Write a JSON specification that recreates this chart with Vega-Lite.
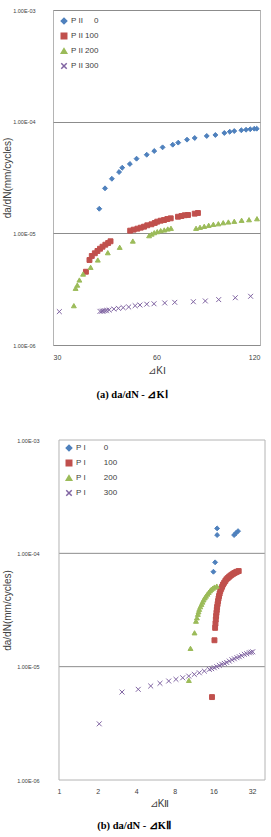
{
  "$schema": "https://vega.github.io/schema/vega-lite/v6.json",
  "background": "white",
  "padding": {"left": 2, "top": 7, "right": 0, "bottom": 0},
  "spacing": 37,
  "config": {
    "view": {"stroke": "#b4b4b4", "strokeWidth": 1},
    "axis": {"labelFont": "Liberation Sans", "titleFont": "Liberation Sans", "labelColor": "#404040", "titleColor": "#404040", "ticks": false, "tickSize": 0, "domain": false, "titleFontWeight": "normal"},
    "legend": {"labelFont": "Liberation Sans", "labelColor": "#404040"}
  },
  "resolve": {
    "scale": {"fill": "independent", "stroke": "independent", "shape": "independent"},
    "legend": {"fill": "independent", "stroke": "independent", "shape": "independent"}
  },
  "vconcat": [
    {
      "width": 207,
      "height": 335,
      "title": {"text": "(a)  da/dN  -  ⊿KⅠ", "orient": "bottom", "anchor": "middle", "frame": "bounds", "font": "Liberation Serif", "fontWeight": "bold", "fontSize": 10.5, "offset": 15, "color": "#000000"},
      "data": {"values": [
        {"k": 40.9, "dadn": 1.66e-5, "s": "0"}, {"k": 42.5, "dadn": 2.53e-5, "s": "0"}, {"k": 44.5, "dadn": 3.08e-5, "s": "0"}, {"k": 46.7, "dadn": 3.54e-5, "s": "0"}, {"k": 47.7, "dadn": 3.87e-5, "s": "0"}, {"k": 50.2, "dadn": 4.18e-5, "s": "0"}, {"k": 52.5, "dadn": 4.66e-5, "s": "0"}, {"k": 56.2, "dadn": 5.06e-5, "s": "0"}, {"k": 59.1, "dadn": 5.46e-5, "s": "0"}, {"k": 62.5, "dadn": 5.89e-5, "s": "0"}, {"k": 66.9, "dadn": 6.22e-5, "s": "0"}, {"k": 69.4, "dadn": 6.49e-5, "s": "0"}, {"k": 73.6, "dadn": 6.9e-5, "s": "0"}, {"k": 77.5, "dadn": 7.14e-5, "s": "0"}, {"k": 84.0, "dadn": 7.45e-5, "s": "0"}, {"k": 89.0, "dadn": 7.6e-5, "s": "0"}, {"k": 94.5, "dadn": 7.92e-5, "s": "0"}, {"k": 98.0, "dadn": 8.13e-5, "s": "0"}, {"k": 101.0, "dadn": 8.24e-5, "s": "0"}, {"k": 105.9, "dadn": 8.37e-5, "s": "0"}, {"k": 109.3, "dadn": 8.47e-5, "s": "0"}, {"k": 112.4, "dadn": 8.55e-5, "s": "0"}, {"k": 115.5, "dadn": 8.65e-5, "s": "0"}, {"k": 117.4, "dadn": 8.65e-5, "s": "0"},
        {"k": 37.4, "dadn": 4.53e-6, "s": "100"}, {"k": 38.3, "dadn": 5.77e-6, "s": "100"}, {"k": 38.9, "dadn": 6.27e-6, "s": "100"}, {"k": 39.7, "dadn": 6.63e-6, "s": "100"}, {"k": 40.4, "dadn": 6.95e-6, "s": "100"}, {"k": 41.1, "dadn": 7.28e-6, "s": "100"}, {"k": 41.8, "dadn": 7.59e-6, "s": "100"}, {"k": 42.6, "dadn": 7.91e-6, "s": "100"}, {"k": 43.4, "dadn": 8.19e-6, "s": "100"}, {"k": 44.1, "dadn": 8.49e-6, "s": "100"}, {"k": 50.3, "dadn": 1.057e-5, "s": "100"}, {"k": 51.5, "dadn": 1.079e-5, "s": "100"}, {"k": 52.8, "dadn": 1.101e-5, "s": "100"}, {"k": 54.0, "dadn": 1.124e-5, "s": "100"}, {"k": 55.2, "dadn": 1.147e-5, "s": "100"}, {"k": 56.4, "dadn": 1.18e-5, "s": "100"}, {"k": 58.0, "dadn": 1.205e-5, "s": "100"}, {"k": 59.3, "dadn": 1.239e-5, "s": "100"}, {"k": 60.3, "dadn": 1.272e-5, "s": "100"}, {"k": 61.7, "dadn": 1.298e-5, "s": "100"}, {"k": 63.1, "dadn": 1.315e-5, "s": "100"}, {"k": 64.5, "dadn": 1.343e-5, "s": "100"}, {"k": 66.0, "dadn": 1.363e-5, "s": "100"}, {"k": 69.3, "dadn": 1.408e-5, "s": "100"}, {"k": 70.9, "dadn": 1.429e-5, "s": "100"}, {"k": 72.5, "dadn": 1.452e-5, "s": "100"}, {"k": 74.1, "dadn": 1.46e-5, "s": "100"}, {"k": 77.5, "dadn": 1.5e-5, "s": "100"}, {"k": 79.2, "dadn": 1.521e-5, "s": "100"},
        {"k": 34.5, "dadn": 2.25e-6, "s": "200"}, {"k": 34.9, "dadn": 3.22e-6, "s": "200"}, {"k": 35.3, "dadn": 3.44e-6, "s": "200"}, {"k": 35.8, "dadn": 3.82e-6, "s": "200"}, {"k": 36.7, "dadn": 4.32e-6, "s": "200"}, {"k": 38.6, "dadn": 4.96e-6, "s": "200"}, {"k": 40.5, "dadn": 5.77e-6, "s": "200"}, {"k": 43.3, "dadn": 6.71e-6, "s": "200"}, {"k": 46.9, "dadn": 7.5e-6, "s": "200"}, {"k": 51.2, "dadn": 8.53e-6, "s": "200"}, {"k": 57.1, "dadn": 9.53e-6, "s": "200"}, {"k": 58.1, "dadn": 9.86e-6, "s": "200"}, {"k": 59.1, "dadn": 1.014e-5, "s": "200"}, {"k": 60.3, "dadn": 1.035e-5, "s": "200"}, {"k": 61.7, "dadn": 1.057e-5, "s": "200"}, {"k": 63.2, "dadn": 1.072e-5, "s": "200"}, {"k": 64.7, "dadn": 1.094e-5, "s": "200"}, {"k": 66.1, "dadn": 1.11e-5, "s": "200"}, {"k": 78.2, "dadn": 1.11e-5, "s": "200"}, {"k": 80.3, "dadn": 1.133e-5, "s": "200"}, {"k": 82.6, "dadn": 1.156e-5, "s": "200"}, {"k": 85.1, "dadn": 1.18e-5, "s": "200"}, {"k": 87.8, "dadn": 1.205e-5, "s": "200"}, {"k": 90.8, "dadn": 1.219e-5, "s": "200"}, {"k": 93.8, "dadn": 1.245e-5, "s": "200"}, {"k": 97.1, "dadn": 1.264e-5, "s": "200"}, {"k": 101.0, "dadn": 1.282e-5, "s": "200"}, {"k": 106.1, "dadn": 1.309e-5, "s": "200"}, {"k": 111.5, "dadn": 1.325e-5, "s": "200"}, {"k": 117.6, "dadn": 1.352e-5, "s": "200"},
        {"k": 31.3, "dadn": 1.99e-6, "s": "300"}, {"k": 41.1, "dadn": 2.0e-6, "s": "300"}, {"k": 41.6, "dadn": 2.01e-6, "s": "300"}, {"k": 42.0, "dadn": 2.02e-6, "s": "300"}, {"k": 42.5, "dadn": 2.03e-6, "s": "300"}, {"k": 43.0, "dadn": 2.04e-6, "s": "300"}, {"k": 43.7, "dadn": 2.06e-6, "s": "300"}, {"k": 45.1, "dadn": 2.1e-6, "s": "300"}, {"k": 46.5, "dadn": 2.13e-6, "s": "300"}, {"k": 48.0, "dadn": 2.16e-6, "s": "300"}, {"k": 49.8, "dadn": 2.19e-6, "s": "300"}, {"k": 52.0, "dadn": 2.25e-6, "s": "300"}, {"k": 53.7, "dadn": 2.28e-6, "s": "300"}, {"k": 56.2, "dadn": 2.32e-6, "s": "300"}, {"k": 59.0, "dadn": 2.34e-6, "s": "300"}, {"k": 63.4, "dadn": 2.38e-6, "s": "300"}, {"k": 67.8, "dadn": 2.41e-6, "s": "300"}, {"k": 76.8, "dadn": 2.44e-6, "s": "300"}, {"k": 83.2, "dadn": 2.48e-6, "s": "300"}, {"k": 91.0, "dadn": 2.55e-6, "s": "300"}, {"k": 101.7, "dadn": 2.65e-6, "s": "300"}, {"k": 112.7, "dadn": 2.73e-6, "s": "300"}
      ]},
      "mark": {"type": "point", "filled": true, "opacity": 1, "size": 24, "strokeWidth": 1},
      "encoding": {
        "x": {"field": "k", "type": "quantitative", "scale": {"type": "log", "base": 2, "domain": [30, 120], "nice": false, "zero": false},
              "axis": {"values": [30, 60, 120], "format": "d", "title": "⊿KⅠ", "grid": false, "labelFontSize": 7, "labelPadding": 8, "titleFontSize": 10, "titlePadding": 5}},
        "y": {"field": "dadn", "type": "quantitative", "scale": {"type": "log", "domain": [1e-6, 1e-3], "nice": false},
              "axis": {"values": [1e-6, 1e-5, 1e-4, 1e-3], "labelExpr": "'1.00E-0' + format(-round(log(datum.value)/LN10), 'd')", "grid": true, "gridColor": "#8c8c8c", "gridWidth": 1, "title": "da/dN(mm/cycles)", "labelFontSize": 5.5, "labelPadding": 18, "titleFontSize": 10, "titlePadding": 0}},
        "fill": {"field": "s", "type": "nominal", "scale": {"domain": ["0", "100", "200", "300"], "range": ["#4F81BD", "#C0504D", "#9BBB59", "#8064A2"]},
                 "legend": {"orient": "top-left", "title": null, "offset": 7, "padding": 0, "labelFontSize": 8, "rowPadding": 3, "symbolSize": 30, "labelOffset": 3, "labelExpr": "'P II\u00a0' + pad(datum.label, 3, '\u2007', 'left')"}},
        "stroke": {"field": "s", "type": "nominal", "scale": {"domain": ["0", "100", "200", "300"], "range": ["#4F81BD", "#C0504D", "#9BBB59", "#8064A2"]},
                 "legend": {"orient": "top-left", "title": null, "offset": 7, "padding": 0, "labelFontSize": 8, "rowPadding": 3, "symbolSize": 30, "labelOffset": 3, "labelExpr": "'P II\u00a0' + pad(datum.label, 3, '\u2007', 'left')"}},
        "shape": {"field": "s", "type": "nominal", "scale": {"domain": ["0", "100", "200", "300"], "range": ["diamond", "square", "triangle-up", "M-1,-1L1,1M-1,1L1,-1"]},
                 "legend": {"orient": "top-left", "title": null, "offset": 7, "padding": 0, "labelFontSize": 8, "rowPadding": 3, "symbolSize": 30, "labelOffset": 3, "labelExpr": "'P II\u00a0' + pad(datum.label, 3, '\u2007', 'left')"}}
      }
    },
    {
      "width": 212,
      "height": 340,
      "view": {"stroke": null},
      "title": {"text": "(b)  da/dN  -  ⊿KⅡ", "orient": "bottom", "anchor": "middle", "frame": "bounds", "font": "Liberation Serif", "fontWeight": "bold", "fontSize": 10.5, "offset": 13, "color": "#000000"},
      "layer": [
        {"data": {"values": [{}]}, "mark": {"type": "rule", "color": "#8c8c8c", "strokeWidth": 1}, "encoding": {"x": {"datum": 1, "type": "quantitative"}, "x2": {"datum": 40.4}, "y": {"datum": 1e-5, "type": "quantitative"}}},
        {"data": {"values": [{}]}, "mark": {"type": "rule", "color": "#8c8c8c", "strokeWidth": 1}, "encoding": {"x": {"datum": 1, "type": "quantitative"}, "x2": {"datum": 40.4}, "y": {"datum": 1e-4, "type": "quantitative"}}},
        {"data": {"values": [{}]}, "mark": {"type": "rule", "color": "#b4b4b4", "strokeWidth": 1}, "encoding": {"x": {"datum": 1, "type": "quantitative"}, "x2": {"datum": 40.4}, "y": {"datum": 1e-3, "type": "quantitative"}}},
        {"data": {"values": [{}]}, "mark": {"type": "rule", "color": "#b4b4b4", "strokeWidth": 1}, "encoding": {"x": {"datum": 1, "type": "quantitative"}, "x2": {"datum": 40.4}, "y": {"datum": 1e-6, "type": "quantitative"}}},
        {"data": {"values": [{}]}, "mark": {"type": "rule", "color": "#b4b4b4", "strokeWidth": 1}, "encoding": {"x": {"datum": 1, "type": "quantitative"}, "y": {"datum": 1e-6, "type": "quantitative"}, "y2": {"datum": 1e-3}}},
        {"data": {"values": [{}]}, "mark": {"type": "rule", "color": "#b4b4b4", "strokeWidth": 1}, "encoding": {"x": {"datum": 40.4, "type": "quantitative"}, "y": {"datum": 1e-6, "type": "quantitative"}, "y2": {"datum": 1e-3}}},
        {
          "data": {"values": [
            {"k": 17.1, "dadn": 1.66e-4, "s": "0"}, {"k": 17.1, "dadn": 1.45e-4, "s": "0"}, {"k": 16.5, "dadn": 8.33e-5, "s": "0"}, {"k": 16.0, "dadn": 6.88e-5, "s": "0"}, {"k": 23.2, "dadn": 1.45e-4, "s": "0"}, {"k": 24.0, "dadn": 1.51e-4, "s": "0"}, {"k": 24.9, "dadn": 1.57e-4, "s": "0"},
            {"k": 15.6, "dadn": 5.39e-6, "s": "100"}, {"k": 16.3, "dadn": 1.71e-5, "s": "100"}, {"k": 16.5, "dadn": 2.2e-5, "s": "100"}, {"k": 16.6, "dadn": 2.4e-5, "s": "100"}, {"k": 16.7, "dadn": 2.61e-5, "s": "100"}, {"k": 16.8, "dadn": 2.8e-5, "s": "100"}, {"k": 16.9, "dadn": 2.99e-5, "s": "100"}, {"k": 17.0, "dadn": 3.17e-5, "s": "100"}, {"k": 17.1, "dadn": 3.36e-5, "s": "100"}, {"k": 17.25, "dadn": 3.57e-5, "s": "100"}, {"k": 17.4, "dadn": 3.79e-5, "s": "100"}, {"k": 17.55, "dadn": 4.0e-5, "s": "100"}, {"k": 17.7, "dadn": 4.2e-5, "s": "100"}, {"k": 17.9, "dadn": 4.42e-5, "s": "100"}, {"k": 18.1, "dadn": 4.65e-5, "s": "100"}, {"k": 18.4, "dadn": 4.86e-5, "s": "100"}, {"k": 18.7, "dadn": 5.07e-5, "s": "100"}, {"k": 19.0, "dadn": 5.3e-5, "s": "100"}, {"k": 19.4, "dadn": 5.5e-5, "s": "100"}, {"k": 19.8, "dadn": 5.7e-5, "s": "100"}, {"k": 20.2, "dadn": 5.9e-5, "s": "100"}, {"k": 20.7, "dadn": 6.06e-5, "s": "100"}, {"k": 21.2, "dadn": 6.21e-5, "s": "100"}, {"k": 21.7, "dadn": 6.35e-5, "s": "100"}, {"k": 22.2, "dadn": 6.47e-5, "s": "100"}, {"k": 22.8, "dadn": 6.6e-5, "s": "100"}, {"k": 23.3, "dadn": 6.7e-5, "s": "100"}, {"k": 23.9, "dadn": 6.8e-5, "s": "100"}, {"k": 24.4, "dadn": 6.88e-5, "s": "100"}, {"k": 25.2, "dadn": 6.98e-5, "s": "100"},
            {"k": 10.3, "dadn": 7.57e-6, "s": "200"}, {"k": 10.6, "dadn": 1.45e-5, "s": "200"}, {"k": 11.4, "dadn": 1.99e-5, "s": "200"}, {"k": 11.7, "dadn": 2.52e-5, "s": "200"}, {"k": 11.9, "dadn": 2.7e-5, "s": "200"}, {"k": 12.1, "dadn": 2.9e-5, "s": "200"}, {"k": 12.25, "dadn": 3.05e-5, "s": "200"}, {"k": 12.4, "dadn": 3.21e-5, "s": "200"}, {"k": 12.65, "dadn": 3.38e-5, "s": "200"}, {"k": 12.9, "dadn": 3.55e-5, "s": "200"}, {"k": 13.15, "dadn": 3.72e-5, "s": "200"}, {"k": 13.4, "dadn": 3.89e-5, "s": "200"}, {"k": 13.7, "dadn": 4.05e-5, "s": "200"}, {"k": 14.0, "dadn": 4.2e-5, "s": "200"}, {"k": 14.35, "dadn": 4.37e-5, "s": "200"}, {"k": 14.7, "dadn": 4.53e-5, "s": "200"}, {"k": 15.05, "dadn": 4.67e-5, "s": "200"}, {"k": 15.4, "dadn": 4.81e-5, "s": "200"}, {"k": 15.85, "dadn": 4.93e-5, "s": "200"}, {"k": 16.3, "dadn": 5.04e-5, "s": "200"}, {"k": 17.0, "dadn": 5.14e-5, "s": "200"},
            {"k": 2.06, "dadn": 3.13e-6, "s": "300"}, {"k": 3.1, "dadn": 5.97e-6, "s": "300"}, {"k": 4.15, "dadn": 6.31e-6, "s": "300"}, {"k": 5.19, "dadn": 6.75e-6, "s": "300"}, {"k": 6.13, "dadn": 7.13e-6, "s": "300"}, {"k": 7.17, "dadn": 7.47e-6, "s": "300"}, {"k": 8.17, "dadn": 7.73e-6, "s": "300"}, {"k": 9.22, "dadn": 7.98e-6, "s": "300"}, {"k": 10.27, "dadn": 8.26e-6, "s": "300"}, {"k": 11.35, "dadn": 8.55e-6, "s": "300"}, {"k": 12.42, "dadn": 8.83e-6, "s": "300"}, {"k": 13.59, "dadn": 9.14e-6, "s": "300"}, {"k": 14.87, "dadn": 9.46e-6, "s": "300"}, {"k": 15.5, "dadn": 9.6e-6, "s": "300"}, {"k": 16.26, "dadn": 9.78e-6, "s": "300"}, {"k": 17.0, "dadn": 1.0e-5, "s": "300"}, {"k": 17.79, "dadn": 1.026e-5, "s": "300"}, {"k": 18.6, "dadn": 1.05e-5, "s": "300"}, {"k": 19.46, "dadn": 1.069e-5, "s": "300"}, {"k": 20.3, "dadn": 1.09e-5, "s": "300"}, {"k": 21.29, "dadn": 1.12e-5, "s": "300"}, {"k": 22.3, "dadn": 1.15e-5, "s": "300"}, {"k": 23.29, "dadn": 1.174e-5, "s": "300"}, {"k": 24.4, "dadn": 1.2e-5, "s": "300"}, {"k": 25.48, "dadn": 1.223e-5, "s": "300"}, {"k": 26.6, "dadn": 1.25e-5, "s": "300"}, {"k": 27.87, "dadn": 1.284e-5, "s": "300"}, {"k": 29.1, "dadn": 1.3e-5, "s": "300"}, {"k": 30.49, "dadn": 1.327e-5, "s": "300"}, {"k": 31.5, "dadn": 1.34e-5, "s": "300"}, {"k": 32.4, "dadn": 1.353e-5, "s": "300"}
          ]},
          "mark": {"type": "point", "filled": true, "opacity": 1, "size": 24, "strokeWidth": 1},
          "encoding": {
            "x": {"field": "k", "type": "quantitative", "scale": {"type": "log", "base": 2, "domain": [0.898, 40.4], "nice": false, "zero": false},
                  "axis": {"values": [1, 2, 4, 8, 16, 32], "format": "d", "title": "⊿KⅡ", "grid": false, "labelFontSize": 7, "labelPadding": 7, "titleFontSize": 10, "titlePadding": 4}},
            "y": {"field": "dadn", "type": "quantitative", "scale": {"type": "log", "domain": [1e-6, 1e-3], "nice": false},
                  "axis": {"values": [1e-6, 1e-5, 1e-4, 1e-3], "labelExpr": "'1.00E-0' + format(-round(log(datum.value)/LN10), 'd')", "grid": false, "offset": -6, "title": "da/dN(mm/cycles)", "labelFontSize": 5.5, "labelPadding": 20, "titleFontSize": 10, "titlePadding": 4}},
            "fill": {"field": "s", "type": "nominal", "scale": {"domain": ["0", "100", "200", "300"], "range": ["#4F81BD", "#C0504D", "#9BBB59", "#8064A2"]},
                     "legend": {"orient": "none", "legendX": 12, "legendY": 4, "title": null, "padding": 0, "labelFontSize": 8, "rowPadding": 3, "symbolSize": 30, "labelOffset": 3, "labelExpr": "'P I\u2003\u2003\u00a0' + datum.label"}},
            "stroke": {"field": "s", "type": "nominal", "scale": {"domain": ["0", "100", "200", "300"], "range": ["#4F81BD", "#C0504D", "#9BBB59", "#8064A2"]},
                     "legend": {"orient": "none", "legendX": 12, "legendY": 4, "title": null, "padding": 0, "labelFontSize": 8, "rowPadding": 3, "symbolSize": 30, "labelOffset": 3, "labelExpr": "'P I\u2003\u2003\u00a0' + datum.label"}},
            "shape": {"field": "s", "type": "nominal", "scale": {"domain": ["0", "100", "200", "300"], "range": ["diamond", "square", "triangle-up", "M-1,-1L1,1M-1,1L1,-1"]},
                     "legend": {"orient": "none", "legendX": 12, "legendY": 4, "title": null, "padding": 0, "labelFontSize": 8, "rowPadding": 3, "symbolSize": 30, "labelOffset": 3, "labelExpr": "'P I\u2003\u2003\u00a0' + datum.label"}}
          }
        }
      ]
    }
  ]
}
